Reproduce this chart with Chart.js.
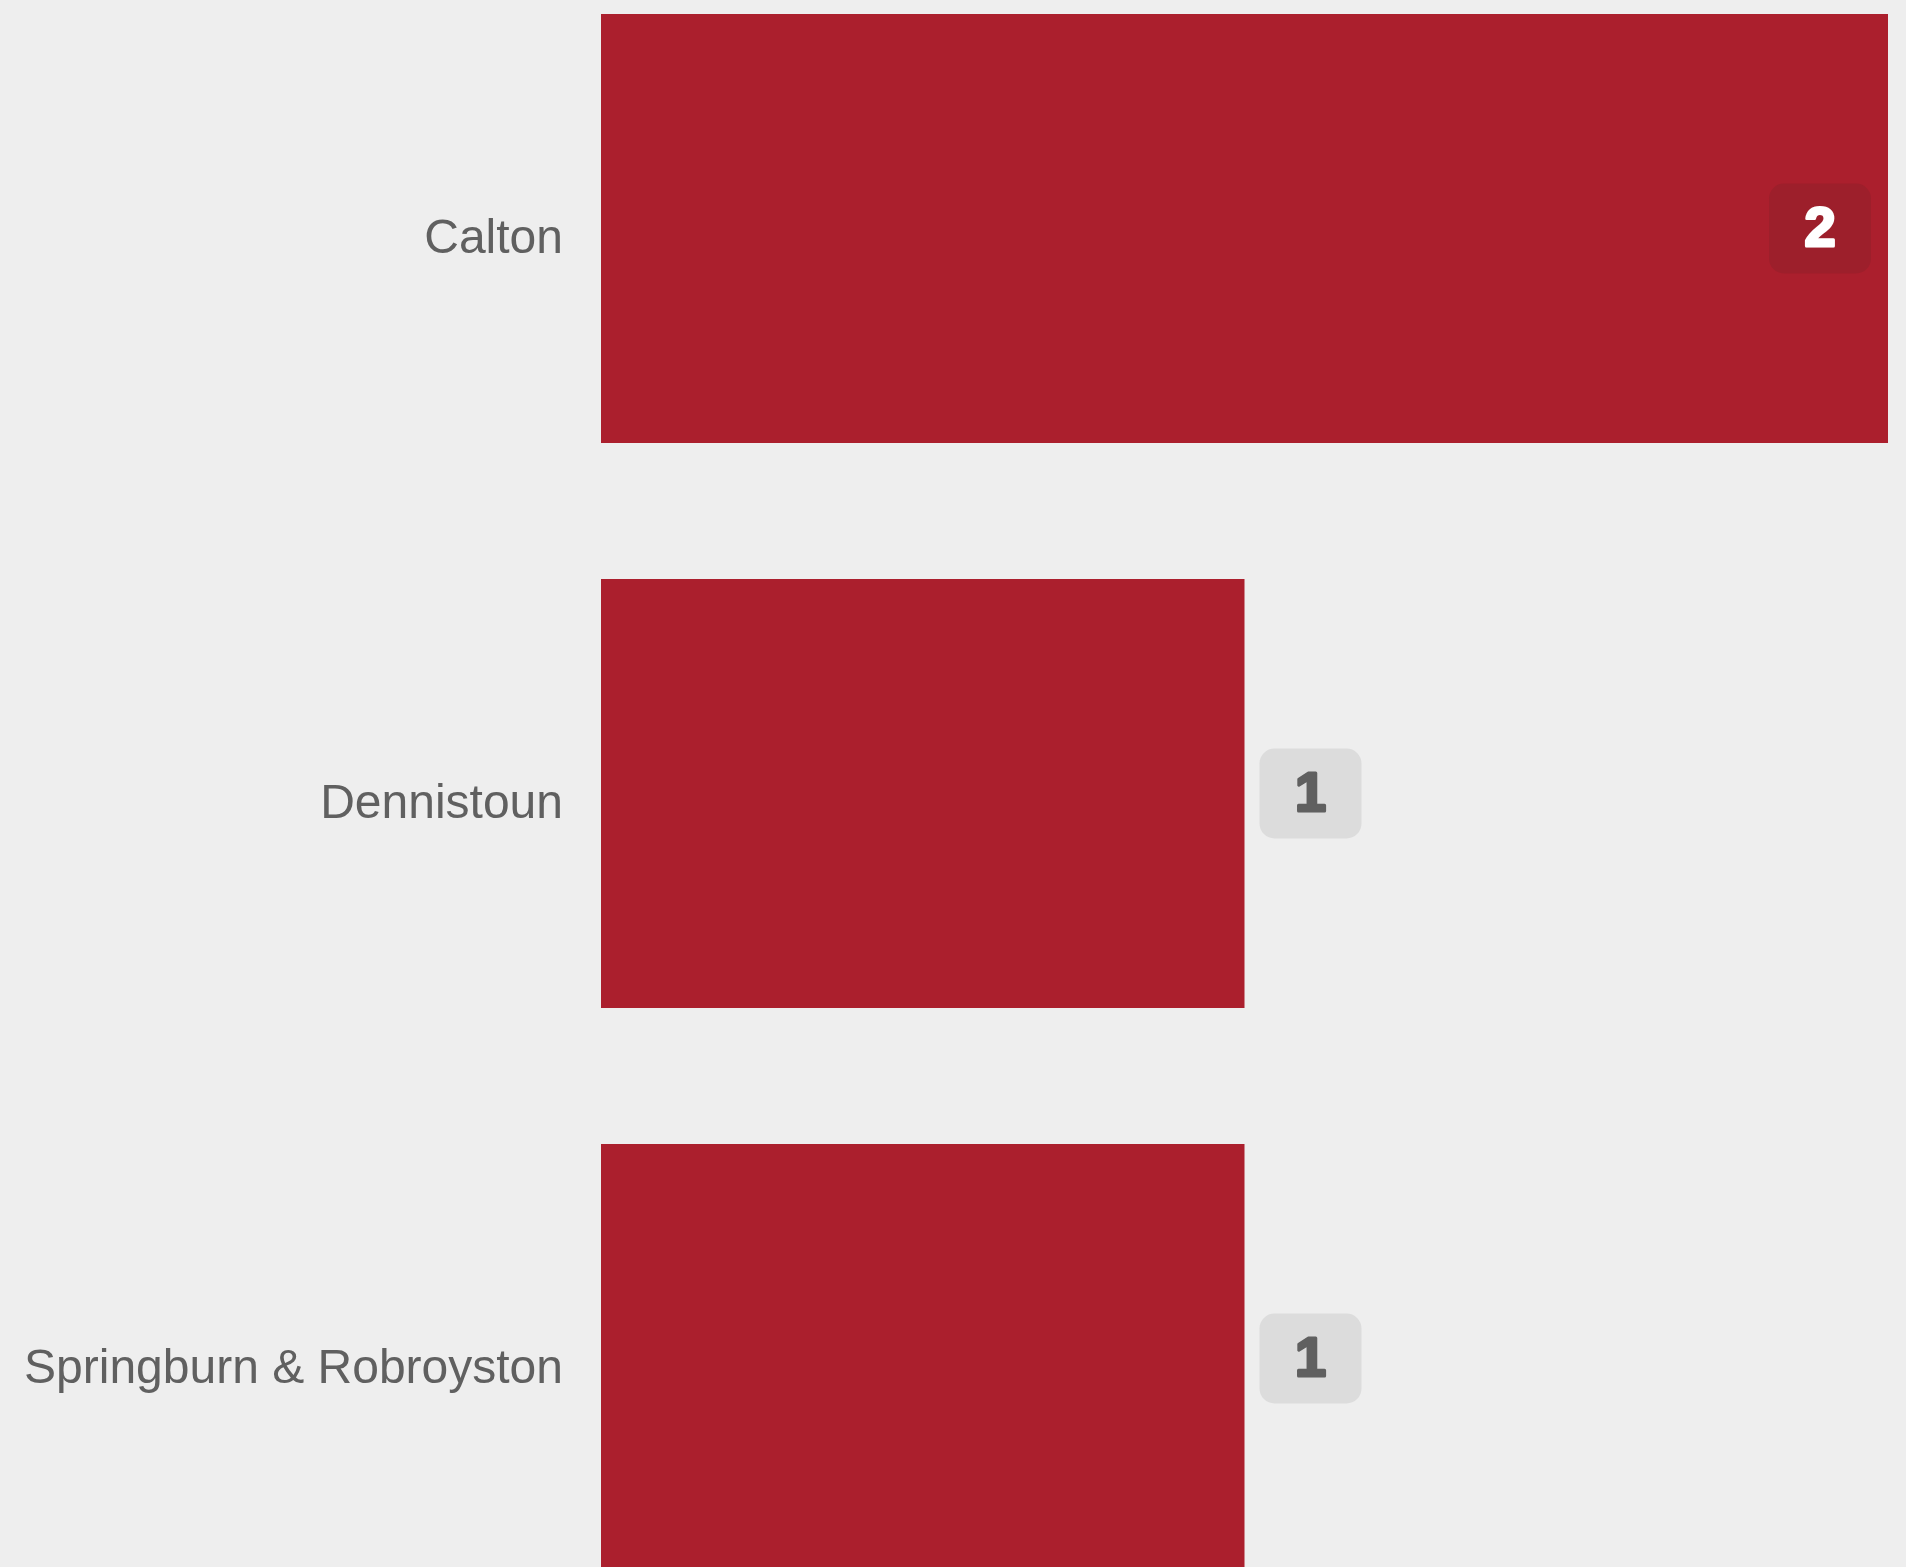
<!DOCTYPE html>
<html>
<head>
<meta charset="utf-8">
<script src="https://cdn.jsdelivr.net/npm/chart.js@4.4.1/dist/chart.umd.min.js"></script>
<style>
  html, body { margin: 0; padding: 0; background: #eeeeee; overflow: hidden; }
  #wrap { position: absolute; left: 0; top: -54px; width: 1906px; height: 1695px; }
</style>
</head>
<body>
<div id="wrap"><canvas id="myChart"></canvas></div>
<script>
var bairros = ['Calton', 'Dennistoun', 'Springburn & Robroyston'];
var qtd = [2, 1, 1];
var maxEixo = 2;

// etiqueta arredondada com o valor na ponta de cada barra
var etiquetas = {
    id: 'etiquetas',
    afterDatasetsDraw: function(chart){
        var ctx = chart.ctx;
        var area = chart.chartArea;
        var meta = chart.getDatasetMeta(0);
        var w = 102, h = 90, r = 15;
        ctx.save();
        ctx.font = 'bold 56px "Liberation Sans", Arial, sans-serif';
        ctx.textAlign = 'center';
        ctx.textBaseline = 'middle';
        meta.data.forEach(function(bar, i){
            var dentro = bar.x + 15 + w > area.right;
            var x = dentro ? bar.x - 17 - w : bar.x + 15;
            var y = bar.y - h / 2;
            ctx.fillStyle = dentro ? '#9d1f2b' : '#dcdcdc';
            ctx.beginPath();
            ctx.roundRect(x, y, w, h, r);
            ctx.fill();
            var cor = dentro ? '#ffffff' : '#606060';
            ctx.fillStyle = cor;
            ctx.strokeStyle = cor;
            ctx.lineWidth = 3;
            ctx.lineJoin = 'round';
            ctx.strokeText(String(qtd[i]), x + w / 2, bar.y + 2);
            ctx.fillText(String(qtd[i]), x + w / 2, bar.y + 2);
        });
        ctx.restore();
    }
};

var ctx = document.getElementById('myChart');
var myChart = new Chart(ctx, {
    type: 'bar',
    data: {
        labels: bairros,
        datasets: [{
            data: qtd,
            backgroundColor: '#ab1f2d',
            borderWidth: 0,
            categoryPercentage: 0.8,
            barPercentage: 0.949
        }]
    },
    options: {
        indexAxis: 'y',
        responsive: true,
        maintainAspectRatio: false,
        animation: false,
        layout: { padding: { left: 0, right: 18, top: 0, bottom: 0 } },
        plugins: {
            legend: { display: false },
            tooltip: { enabled: false }
        },
        scales: {
            x: {
                display: false,
                beginAtZero: true,
                min: 0,
                max: maxEixo
            },
            y: {
                grid: { display: false },
                border: { display: false },
                ticks: {
                    color: '#606060',
                    padding: 30,
                    labelOffset: 11,
                    font: { family: '"Liberation Sans", Arial, sans-serif', size: 48 }
                },
                afterFit: function(scale){
                    scale.width = 601;
                    scale.paddingTop = 0;
                    scale.paddingBottom = 0;
                }
            }
        }
    },
    plugins: [etiquetas]
});
</script>
</body>
</html>
